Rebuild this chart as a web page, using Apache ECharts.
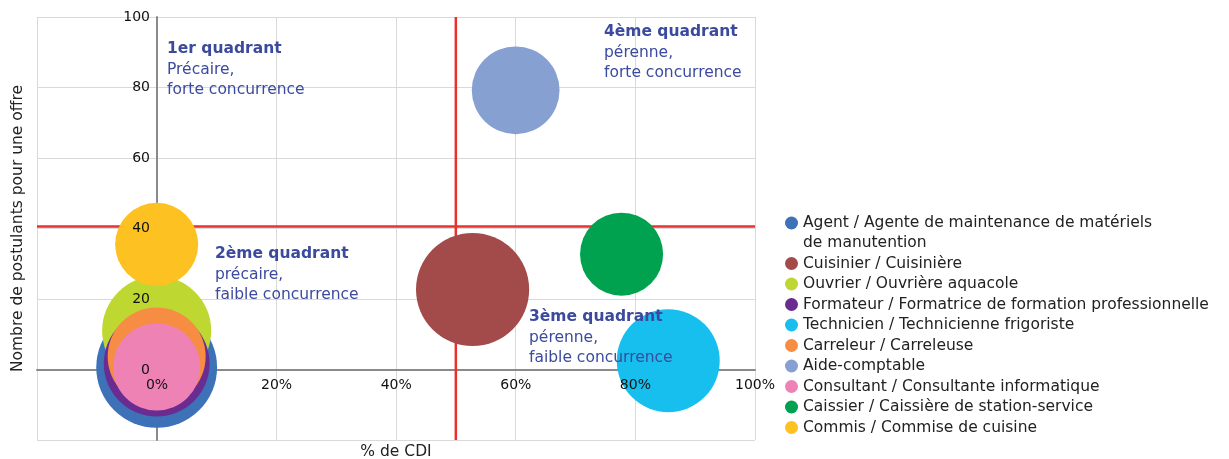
<!DOCTYPE html>
<html>
<head>
<meta charset="utf-8">
<script src="https://cdn.jsdelivr.net/npm/echarts@6/dist/echarts.min.js"></script>
<style>
  html, body { margin: 0; padding: 0; background: #fff; }
  #main { width: 1229px; height: 459px; }
</style>
</head>
<body>
<div id="main"></div>
<script>
// métiers (une série par métier)
var metiers = [
  "Agent / Agente de maintenance de matériels de manutention",
  "Cuisinier / Cuisinière",
  "Ouvrier / Ouvrière aquacole",
  "Formateur / Formatrice de formation professionnelle",
  "Technicien / Technicienne frigoriste",
  "Carreleur / Carreleuse",
  "Aide-comptable",
  "Consultant / Consultante informatique",
  "Caissier / Caissière de station-service",
  "Commis / Commise de cuisine"
];
var pctCDI     = [0, 52.8, 0, 0, 85.5, 0, 60, 0, 77.7, 0];
var postulants = [0.6, 22.7, 11, 1.7, 2.5, 3.7, 79.2, 0.7, 32.7, 35.5];
var volume     = [146, 128, 119, 112, 106, 96, 77, 76, 69, 69];   // taille des bulles
var couleurs   = ["#3d72b8", "#a34a4a", "#bfd731", "#6a2c91", "#17bfef",
                  "#f68d43", "#86a0d2", "#ee82b5", "#00a24f", "#fdc121"];
var seuilCDI = 50, seuilPostulants = 40.6;
var axeMin = -20, axeMax = 100, pas = 20;

window.onload = function () {
  var chart = echarts.init(document.getElementById("main"));
  var police = "DejaVu Sans";
  var taille = 15.5;

  var series = metiers.map(function (nom, i) {
    return {
      name: nom, type: "scatter", z: 2,
      data: [[pctCDI[i], postulants[i], volume[i]]],
      symbolSize: function (d) { return Math.sqrt(d[2]) * 10; },
      itemStyle: { color: couleurs[i], opacity: 1 },
      emphasis: { disabled: true }
    };
  });
  // lignes rouges des quadrants, sous les bulles
  var rouge = { color: "#e8312f", width: 2.5 };
  series.push({ type: "line", z: 1, silent: true, showSymbol: false, lineStyle: rouge,
    data: [[seuilCDI, axeMin], [seuilCDI, axeMax]] });
  series.push({ type: "line", z: 1, silent: true, showSymbol: false, lineStyle: rouge,
    data: [[axeMin, seuilPostulants], [axeMax, seuilPostulants]] });

  var bleu = "#3b4a9e";
  function quadrant(l, t, txt) {
    return {
      type: "text", left: l, top: t, z: 100,
      style: {
        text: txt, fill: bleu, lineHeight: 20.5,
        rich: {
          b: { fontWeight: "bold", fontSize: taille, fontFamily: police, color: bleu, lineHeight: 20.5 },
          n: { fontSize: taille, fontFamily: police, color: bleu, lineHeight: 20.5 }
        }
      }
    };
  }

  option = {
    animation: false,
    textStyle: { fontFamily: police },
    grid: [
      { left: 37, right: 474, top: 17, bottom: 19, containLabel: false, outerBoundsMode: "none" },
      // grille des étiquettes : son coin bas-gauche est l'origine (0, 0)
      { left: 157, right: 474, top: 17, bottom: 89, containLabel: false, outerBoundsMode: "none" }
    ],
    legend: {
      orient: "vertical", left: 785, top: 193, padding: 0,
      icon: "circle", itemWidth: 13, itemHeight: 13, itemGap: 0.5,
      selectedMode: false,
      data: metiers,
      textStyle: { fontSize: taille, color: "#222", lineHeight: 20, fontFamily: police },
      formatter: function (n) {
        if (n === metiers[0]) return "\nAgent / Agente de maintenance de matériels\nde manutention";
        return n;
      }
    },
    xAxis: [
      { type: "value", gridIndex: 0, min: axeMin, max: axeMax, interval: pas, z: 0,
        axisLine: { onZero: true, lineStyle: { color: "#8a8a8a", width: 2 } },
        axisTick: { show: false }, axisLabel: { show: false },
        splitLine: { show: true, lineStyle: { color: "#d9d9d9", width: 1 } },
        name: "% de CDI", nameLocation: "middle", nameGap: 4,
        nameTextStyle: { fontSize: taille, color: "#222", fontFamily: police } },
      { type: "value", gridIndex: 1, min: 0, max: axeMax, interval: pas, z: 10,
        axisLine: { show: false }, axisTick: { show: false }, splitLine: { show: false },
        axisLabel: { margin: 8, fontSize: 14, color: "#111", fontFamily: police,
          formatter: function (v) { return v + "%"; } } }
    ],
    yAxis: [
      { type: "value", gridIndex: 0, min: axeMin, max: axeMax, interval: pas, z: 0,
        axisLine: { onZero: true, lineStyle: { color: "#8a8a8a", width: 2 } },
        axisTick: { show: false }, axisLabel: { show: false },
        splitLine: { show: true, lineStyle: { color: "#d9d9d9", width: 1 } },
        name: "Nombre de postulants pour une offre", nameLocation: "middle", nameGap: 11,
        nameTextStyle: { fontSize: taille, color: "#222", fontFamily: police } },
      { type: "value", gridIndex: 1, min: 0, max: axeMax, interval: pas, z: 10,
        axisLine: { show: false }, axisTick: { show: false }, splitLine: { show: false },
        axisLabel: { margin: 7, fontSize: 14, color: "#111", fontFamily: police } }
    ],
    series: series,
    graphic: [
      quadrant(167, 39, "{b|1er quadrant}\n{n|Précaire,}\n{n|forte concurrence}"),
      quadrant(215, 244, "{b|2ème quadrant}\n{n|précaire,}\n{n|faible concurrence}"),
      quadrant(529, 307, "{b|3ème quadrant}\n{n|pérenne,}\n{n|faible concurrence}"),
      quadrant(604, 22, "{b|4ème quadrant}\n{n|pérenne,}\n{n|forte concurrence}")
    ]
  };
  chart.setOption(option);
};
</script>
</body>
</html>
